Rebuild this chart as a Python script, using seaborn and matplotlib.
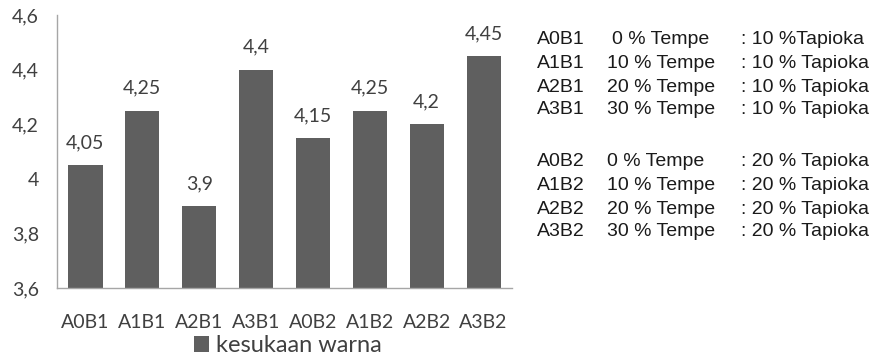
import matplotlib
matplotlib.use("Agg")
import matplotlib.pyplot as plt
import seaborn as sns
import pandas as pd
from matplotlib.patches import Patch
from matplotlib.ticker import FuncFormatter, MultipleLocator

# Colour-preference scores per formulation
categories = ["A0B1", "A1B1", "A2B1", "A3B1", "A0B2", "A1B2", "A2B2", "A3B2"]
scores = [4.05, 4.25, 3.9, 4.4, 4.15, 4.25, 4.2, 4.45]
series_name = "kesukaan warna"

# Key describing each formulation
key_codes = ["A0B1", "A1B1", "A2B1", "A3B1", "A0B2", "A1B2", "A2B2", "A3B2"]
key_tempe = ["0 % Tempe", "10 % Tempe", "20 % Tempe", "30 % Tempe",
             "0 % Tempe", "10 % Tempe", "20 % Tempe", "30 % Tempe"]
key_tapioka = [": 10 %Tapioka", ": 10 % Tapioka", ": 10 % Tapioka", ": 10 % Tapioka",
               ": 20 % Tapioka", ": 20 % Tapioka", ": 20 % Tapioka", ": 20 % Tapioka"]

df = pd.DataFrame({"kode": categories, "nilai": scores})

sns.set_theme(style="white")
plt.rcParams["font.family"] = ["Lato", "DejaVu Sans"]

W, H = 877, 361
fig = plt.figure(figsize=(W / 100, H / 100), dpi=100)
ax = fig.add_axes([57 / W, 1 - 288 / H, 455 / W, 273 / H])

bar_color = "#5f5f5f"
text_color = "#404040"
sns.barplot(data=df, x="kode", y="nilai", color=bar_color, width=0.6,
            saturation=1, ax=ax, edgecolor="none")

ax.set_ylim(3.6, 4.6)
ax.set_xlim(-0.5, len(categories) - 0.5)
ax.yaxis.set_major_locator(MultipleLocator(0.2))
comma = lambda v: f"{v:g}".replace(".", ",")
ax.yaxis.set_major_formatter(FuncFormatter(lambda v, p: comma(round(v, 2))))
ax.set_xlabel("")
ax.set_ylabel("")
ax.tick_params(axis="both", length=0, labelsize=14, colors=text_color)
ax.tick_params(axis="y", pad=13)
ax.tick_params(axis="x", pad=19)

for side in ["top", "right"]:
    ax.spines[side].set_visible(False)
for side in ["left", "bottom"]:
    ax.spines[side].set_color("#a6a6a6")
    ax.spines[side].set_linewidth(1.0)

for i, v in enumerate(scores):
    ax.annotate(comma(v), (i, v), xytext=(0, 10), textcoords="offset points",
                ha="center", va="bottom", fontsize=14, color=text_color)

fig.legend(handles=[Patch(facecolor=bar_color, edgecolor="none", label=series_name)],
           loc="center", bbox_to_anchor=(288 / W, 1 - 346 / H), frameon=False,
           fontsize=17, handlelength=0.65, handleheight=0.65, handletextpad=0.3,
           labelcolor=text_color, borderpad=0)

# Formulation key on the right
row_y = [40, 63, 87, 110, 162, 185, 209, 232]
key_font = dict(family=["Liberation Sans", "DejaVu Sans"], fontsize=14,
                color="#1a1a1a", va="center", ha="left")
for i, (c, t, p) in enumerate(zip(key_codes, key_tempe, key_tapioka)):
    y = 1 - row_y[i] / H
    fig.text(537 / W, y, c, **key_font)
    tx = 612 if i == 0 else 607
    fig.text(tx / W, y, t, **key_font)
    fig.text(741 / W, y, p, **key_font)

fig.savefig("out.png", dpi=100)
